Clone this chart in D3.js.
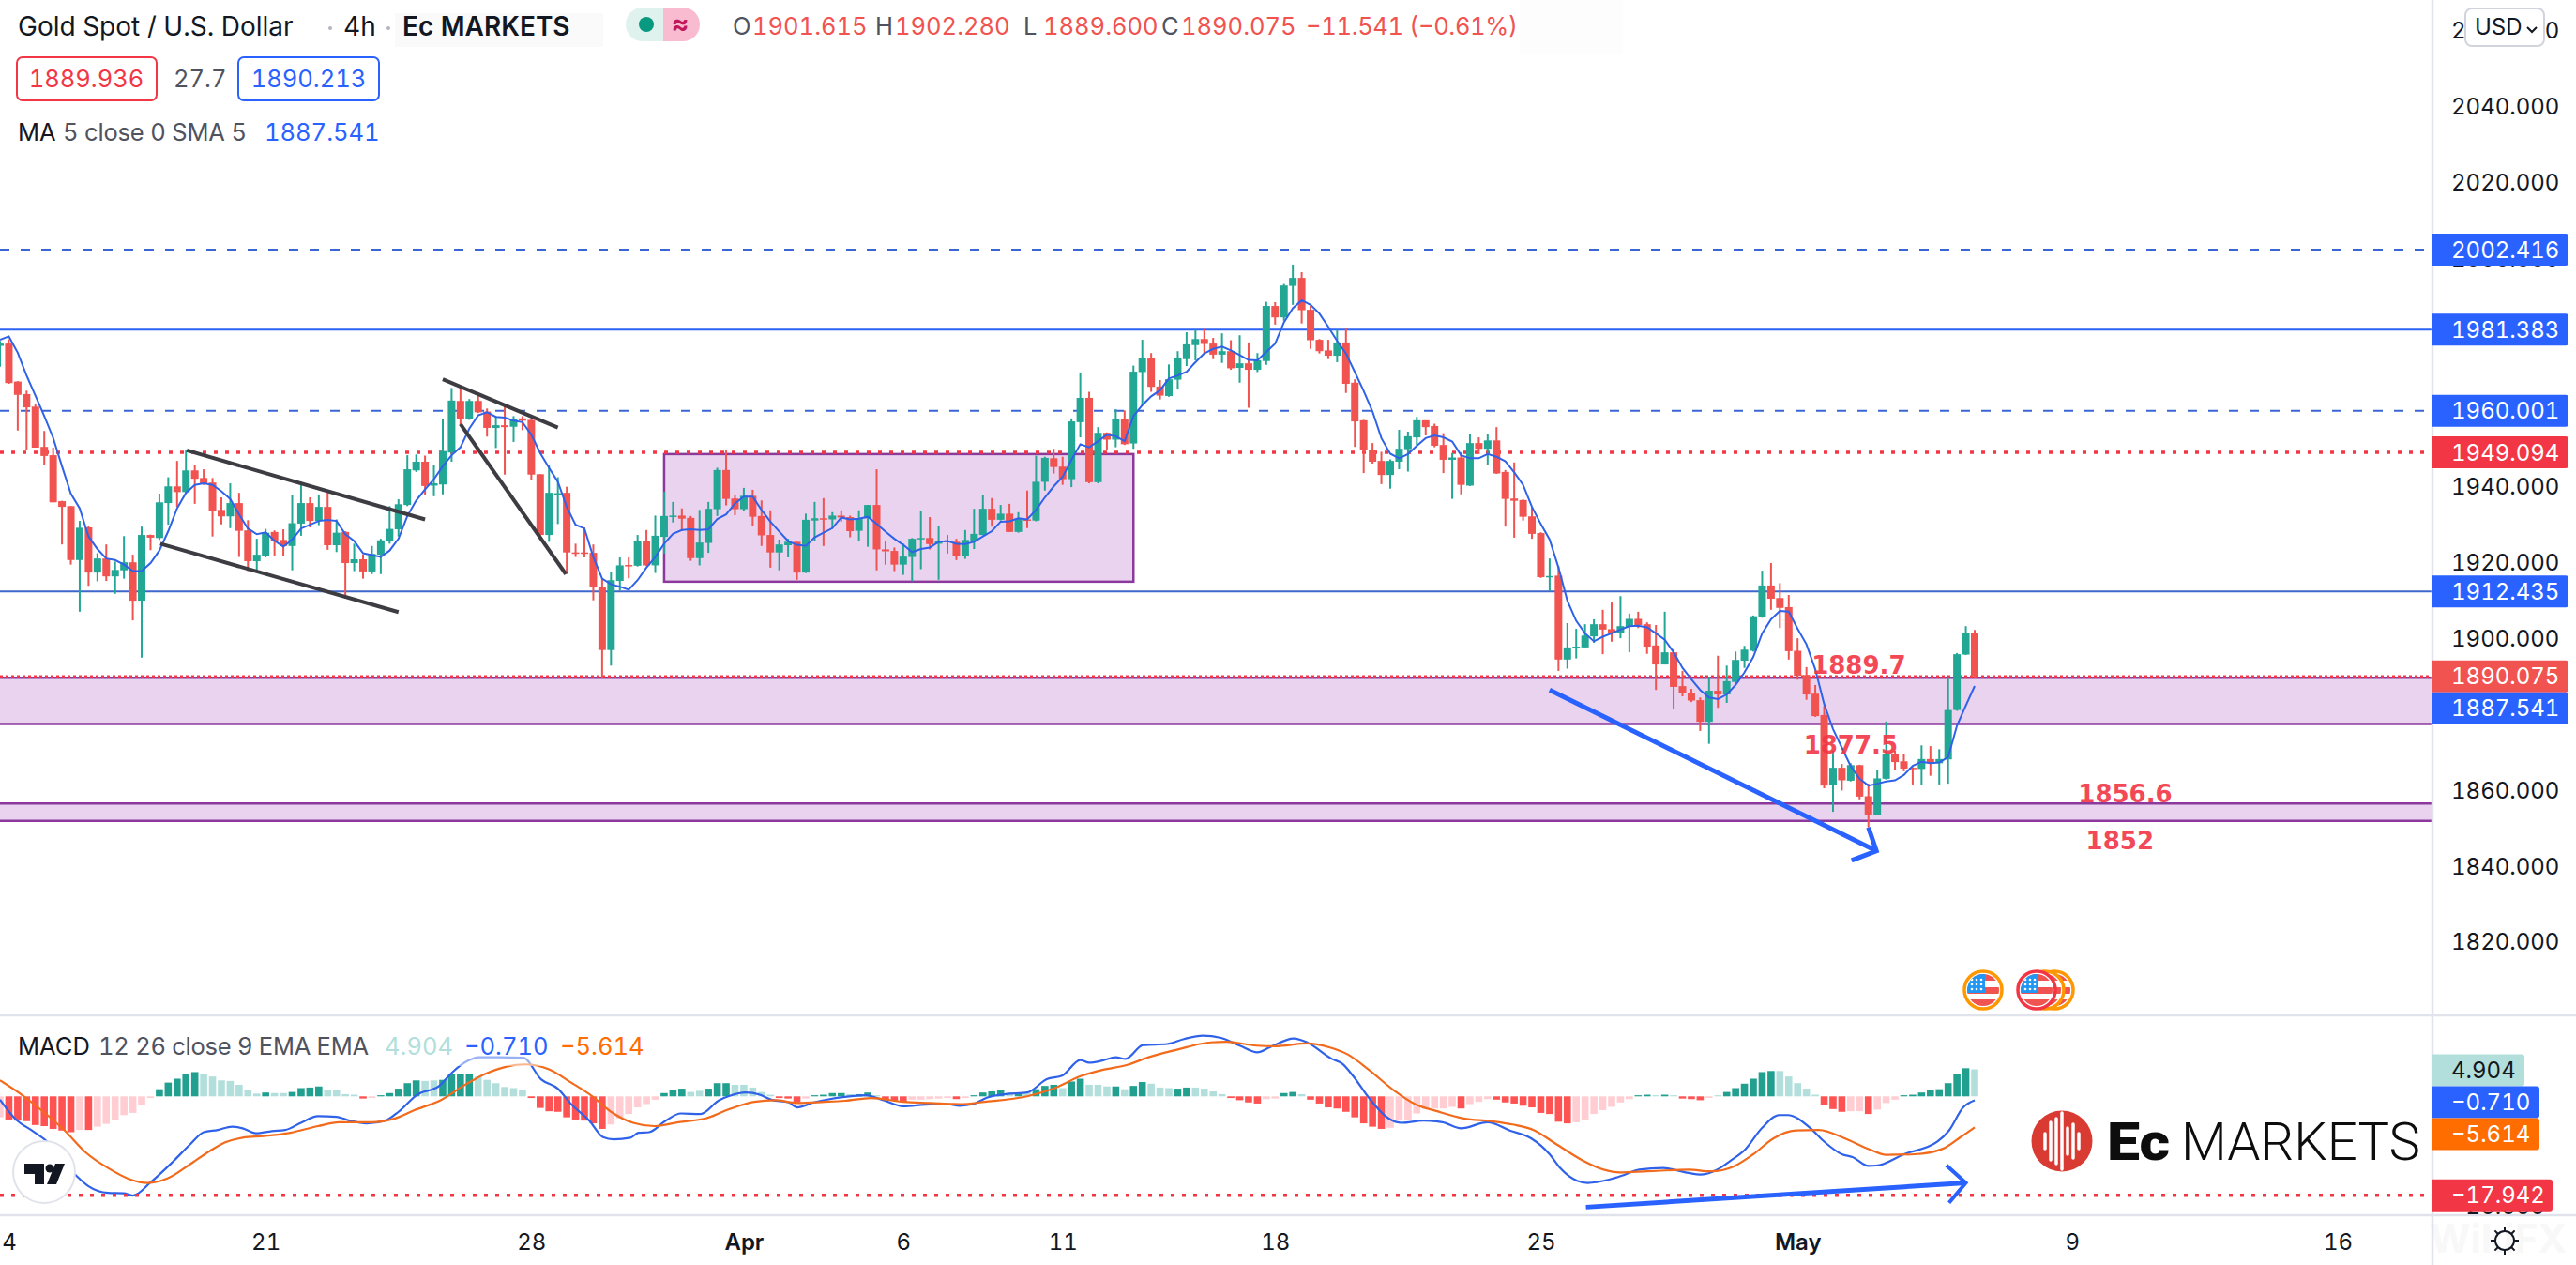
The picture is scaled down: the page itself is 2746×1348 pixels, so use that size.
<!DOCTYPE html>
<html>
<head>
<meta charset="utf-8">
<script src="https://cdn.jsdelivr.net/npm/d3@7"></script>
<style>
  html, body { margin: 0; padding: 0; background: #fff; }
  svg { display: block; }
  text { font-family: Inter, "Noto Sans", sans-serif; font-variant-numeric: tabular-nums; font-feature-settings: "tnum" 1; }
</style>
</head>
<body>
<div id="chart-area"></div>
<script>
// 4h candles, index 0 = left edge
var opens = [
1977.1,1977.7,1967.7,1964.4,1961.1,1950.5,1948.3,1936.2,1934.9,1920.7,
1929.3,1917.4,1921.1,1916.4,1918.0,1920.1,1910.0,1927.3,1926.5,1935.7,
1940.1,1938.6,1944.3,1942.3,1941.1,1933.9,1932.2,1935.7,1928.5,1920.4,
1921.8,1928.1,1926.0,1924.4,1930.3,1935.7,1931.0,1934.7,1924.6,1928.1,
1919.9,1920.9,1917.7,1922.1,1925.6,1928.8,1935.2,1944.3,1946.6,1940.3,
1940.6,1949.0,1962.6,1957.8,1962.6,1959.8,1955.5,1956.2,1955.8,1958.0,
1957.6,1943.3,1927.3,1938.2,1938.4,1922.7,1922.7,1922.6,1913.6,1897.0,
1915.2,1919.4,1919.2,1925.8,1919.3,1926.8,1932.3,1932.4,1931.8,1921.2,
1925.2,1934.1,1944.4,1936.9,1934.1,1937.6,1932.3,1927.3,1922.7,1924.6,
1925.5,1917.4,1931.1,1931.7,1931.4,1932.4,1932.0,1928.4,1931.7,1935.2,
1923.5,1923.1,1919.5,1921.5,1926.3,1926.5,1925.0,1925.8,1925.5,1921.7,
1925.8,1927.3,1934.2,1931.3,1932.9,1928.1,1931.4,1931.1,1941.3,1947.5,
1945.3,1942.0,1957.0,1963.4,1941.2,1954.2,1952.4,1957.9,1951.4,1970.2,
1974.0,1966.4,1963.9,1968.2,1973.6,1977.3,1978.9,1977.7,1974.8,1975.7,
1971.3,1972.5,1970.8,1973.1,1987.6,1984.6,1992.9,1995.0,1986.6,1978.7,
1975.9,1974.5,1978.0,1967.4,1957.5,1949.7,1946.8,1943.1,1946.6,1949.9,
1953.0,1957.5,1956.0,1951.0,1947.1,1947.7,1940.3,1951.5,1950.0,1952.2,
1943.9,1936.9,1936.5,1932.2,1927.8,1916.3,1916.6,1894.5,1897.6,1897.7,
1900.6,1903.8,1902.5,1901.5,1903.1,1905.2,1903.8,1898.2,1893.2,1896.4,
1887.5,1885.7,1883.8,1878.1,1886.3,1885.3,1888.6,1894.2,1896.8,1905.7,
1914.0,1910.7,1908.3,1896.8,1890.4,1885.5,1879.9,1861.4,1866.0,1862.6,
1866.7,1858.5,1853.5,1863.1,1869.7,1867.7,1866.0,1865.7,1868.3,1867.2,
1868.2,1881.2,1895.8,1901.615];

var highs = [
1978.4,1978.8,1967.8,1965.3,1961.9,1954.7,1950.3,1936.3,1934.9,1931.0,
1929.8,1922.5,1924.8,1920.3,1927.0,1922.1,1929.5,1927.4,1938.2,1942.5,
1946.8,1949.7,1945.8,1944.6,1942.3,1937.2,1940.9,1938.4,1931.2,1926.3,
1928.9,1928.5,1928.8,1937.7,1941.3,1937.2,1937.8,1938.4,1931.4,1928.3,
1925.0,1922.2,1924.4,1926.3,1934.9,1936.7,1948.3,1948.5,1948.2,1945.8,
1957.9,1966.0,1965.8,1963.1,1964.6,1960.6,1958.6,1961.7,1958.6,1958.6,
1957.8,1943.3,1945.6,1942.5,1940.0,1925.0,1929.3,1924.8,1915.8,1917.6,
1921.4,1921.4,1927.3,1928.6,1932.4,1938.7,1936.0,1934.3,1932.3,1933.9,
1936.0,1945.0,1949.7,1937.9,1939.7,1939.2,1936.4,1933.8,1926.1,1926.3,
1925.5,1932.9,1936.0,1937.0,1933.3,1933.8,1932.4,1933.8,1935.2,1944.6,
1925.8,1924.0,1925.0,1926.5,1933.5,1932.0,1929.6,1927.3,1926.3,1928.6,
1934.2,1937.7,1937.0,1935.2,1935.5,1933.3,1939.0,1948.2,1947.9,1950.0,
1947.9,1958.0,1970.1,1965.0,1955.7,1954.3,1960.4,1960.1,1971.9,1978.7,
1975.2,1968.1,1972.2,1975.7,1980.7,1981.3,1981.5,1979.2,1980.4,1978.6,
1979.9,1978.0,1975.2,1988.7,1988.6,1993.4,1998.5,1996.5,1987.6,1978.9,
1978.7,1981.3,1981.9,1968.3,1957.6,1951.5,1949.2,1947.2,1955.0,1954.5,
1958.4,1957.5,1956.6,1954.1,1948.9,1949.1,1954.0,1953.0,1953.8,1955.7,
1944.4,1946.4,1936.7,1934.6,1928.0,1921.1,1919.1,1904.1,1902.6,1903.8,
1905.1,1907.6,1909.5,1911.2,1906.6,1907.1,1904.3,1903.6,1907.1,1897.2,
1891.5,1886.8,1884.5,1890.0,1895.5,1892.9,1896.6,1898.1,1906.1,1917.9,
1919.9,1914.6,1911.5,1900.1,1892.5,1887.8,1882.3,1870.5,1867.0,1867.2,
1866.8,1861.8,1865.5,1878.2,1870.5,1869.5,1866.2,1871.9,1871.7,1870.9,
1889.8,1896.2,1903.3,1902.28];

var lows = [
1971.6,1967.1,1954.8,1949.8,1950.3,1945.8,1935.9,1924.8,1919.5,1907.1,
1913.9,1915.1,1915.2,1911.8,1915.8,1904.8,1895.0,1923.3,1926.0,1930.0,
1934.7,1938.4,1935.5,1940.5,1926.9,1930.1,1929.1,1921.5,1917.8,1918.1,
1921.4,1921.9,1921.7,1918.0,1927.1,1929.3,1929.9,1923.4,1922.8,1910.6,
1917.8,1915.8,1917.0,1917.0,1925.0,1926.9,1934.9,1943.9,1937.7,1937.5,
1938.0,1946.6,1956.3,1957.6,1959.4,1953.2,1950.2,1943.2,1951.8,1954.9,
1941.9,1927.1,1925.5,1930.2,1917.0,1921.5,1921.4,1910.1,1889.8,1892.9,
1912.6,1915.9,1919.0,1919.1,1917.3,1922.4,1930.6,1928.3,1920.5,1919.3,
1922.6,1932.3,1935.1,1932.5,1933.6,1929.6,1924.4,1918.7,1918.0,1921.4,
1915.5,1917.3,1925.7,1924.4,1929.0,1930.8,1926.7,1925.7,1924.2,1918.0,
1919.5,1917.8,1916.8,1915.1,1918.3,1923.5,1915.5,1922.4,1920.7,1921.0,
1923.6,1927.2,1929.5,1931.1,1928.1,1927.9,1929.1,1930.9,1939.0,1943.5,
1940.5,1939.9,1953.0,1940.9,1940.9,1949.8,1950.4,1951.0,1950.0,1961.5,
1965.0,1963.0,1963.7,1965.6,1971.8,1973.3,1974.9,1973.6,1972.6,1970.8,
1967.4,1960.8,1970.2,1972.1,1982.7,1983.7,1987.9,1983.0,1976.3,1975.1,
1973.6,1972.8,1964.7,1950.5,1943.6,1946.1,1940.7,1939.5,1944.6,1944.0,
1951.0,1953.5,1950.4,1943.6,1936.8,1938.0,1940.2,1948.6,1945.8,1943.4,
1929.5,1926.6,1931.1,1926.3,1916.0,1912.5,1891.5,1892.1,1894.8,1897.7,
1898.9,1895.9,1899.2,1900.1,1896.4,1902.8,1896.0,1886.5,1893.2,1881.4,
1884.8,1883.3,1875.7,1872.3,1881.8,1883.1,1888.2,1892.3,1896.6,1905.5,
1907.6,1902.8,1894.5,1889.2,1883.9,1879.4,1860.6,1854.4,1860.0,1862.4,
1857.7,1850.3,1853.5,1862.9,1865.4,1865.1,1861.6,1861.4,1863.9,1861.6,
1861.8,1881.0,1895.7,1889.6];

var closes = [
1977.7,1967.3,1964.2,1960.9,1950.3,1948.1,1935.9,1934.7,1920.7,1929.2,
1917.4,1921.1,1916.4,1918.1,1920.1,1910.0,1927.3,1926.6,1935.9,1940.1,
1938.6,1944.3,1942.1,1940.9,1933.7,1932.2,1935.7,1928.4,1920.4,1922.1,
1927.9,1925.8,1924.4,1930.4,1935.7,1931.0,1934.7,1924.6,1927.9,1919.9,
1920.9,1917.7,1922.3,1925.9,1928.9,1935.4,1944.6,1946.6,1940.2,1940.9,
1949.4,1962.7,1957.8,1962.6,1959.6,1955.5,1956.2,1955.7,1957.9,1957.4,
1943.2,1927.3,1938.4,1938.3,1922.7,1922.5,1922.5,1913.5,1897.0,1915.4,
1919.3,1919.1,1925.8,1919.3,1927.1,1932.3,1932.4,1931.6,1921.2,1925.3,
1934.2,1944.4,1936.8,1934.1,1937.6,1932.1,1927.2,1922.7,1924.8,1925.5,
1917.4,1931.3,1931.7,1931.4,1932.4,1931.9,1928.3,1931.7,1935.2,1923.5,
1923.0,1919.5,1921.6,1926.3,1926.5,1924.9,1925.8,1925.4,1921.7,1926.0,
1927.6,1934.2,1931.3,1932.9,1928.1,1931.6,1931.1,1941.3,1947.6,1945.2,
1942.0,1957.2,1963.4,1941.2,1954.2,1952.4,1957.9,1951.2,1970.3,1974.0,
1966.3,1964.0,1968.3,1973.8,1977.5,1978.9,1977.6,1974.8,1975.7,1971.2,
1972.5,1970.8,1973.3,1987.6,1984.6,1993.0,1995.0,1986.5,1978.6,1975.7,
1974.5,1978.0,1967.1,1957.2,1949.6,1946.6,1943.1,1946.8,1950.0,1953.3,
1957.5,1955.7,1950.8,1947.1,1947.7,1940.5,1951.5,1950.0,1952.2,1943.5,
1936.8,1936.3,1932.1,1927.6,1916.2,1916.5,1894.5,1897.7,1897.9,1900.8,
1903.8,1902.4,1901.4,1903.3,1905.2,1903.6,1897.9,1893.2,1896.4,1887.3,
1885.6,1883.7,1878.1,1886.3,1885.3,1888.8,1894.4,1897.1,1905.9,1914.0,
1910.5,1908.1,1896.7,1890.2,1885.3,1879.6,1861.3,1866.0,1862.7,1866.7,
1858.4,1853.5,1863.2,1869.7,1867.5,1865.8,1865.8,1868.3,1867.2,1868.3,
1881.2,1895.9,1901.6,1890.075];

// MA 5
var maValues = [
1978.7,1979.6,1975.3,1969.3,1964.0,1958.6,1952.9,1945.4,1938.2,1934.3,
1926.9,1923.6,1921.1,1920.7,1919.5,1917.8,1917.8,1919.9,1923.2,1928.3,
1934.3,1938.4,1940.5,1940.9,1940.5,1938.8,1936.8,1932.7,1929.0,1927.5,
1928.0,1925.8,1924.2,1926.1,1929.0,1930.0,1931.0,1931.3,1931.0,1927.5,
1925.7,1922.5,1922.0,1921.5,1923.2,1926.3,1932.3,1936.4,1939.3,1942.0,
1945.4,1948.3,1950.4,1955.3,1958.8,1959.6,1958.4,1958.2,1957.4,1957.0,
1953.7,1948.9,1945.0,1941.3,1934.7,1930.0,1929.0,1921.5,1915.8,1914.3,
1913.7,1912.9,1915.4,1918.7,1921.5,1925.0,1927.6,1928.6,1928.8,1928.6,
1928.8,1931.5,1932.7,1935.6,1937.4,1937.4,1933.9,1930.8,1928.2,1925.7,
1924.7,1924.4,1926.7,1927.9,1929.1,1931.9,1931.4,1931.6,1932.1,1930.2,
1928.2,1926.3,1924.7,1922.8,1923.6,1924.0,1925.5,1925.7,1925.0,1924.9,
1925.5,1926.9,1928.3,1930.8,1930.9,1931.7,1931.4,1933.9,1937.2,1940.1,
1942.6,1947.1,1951.2,1950.4,1952.0,1953.7,1953.3,1952.0,1958.6,1961.5,
1963.8,1965.4,1968.5,1969.3,1970.3,1972.8,1975.1,1976.3,1976.9,1975.9,
1974.7,1973.4,1973.3,1975.5,1977.7,1983.3,1987.0,1989.1,1987.9,1985.6,
1982.1,1978.4,1975.1,1970.2,1965.2,1959.8,1952.8,1948.7,1947.5,1948.6,
1950.8,1952.8,1953.5,1953.0,1951.9,1948.3,1947.5,1947.5,1948.6,1947.9,
1946.7,1943.8,1940.5,1934.7,1930.2,1926.1,1918.7,1910.0,1904.7,1901.4,
1899.3,1900.5,1901.4,1902.4,1903.3,1903.4,1903.0,1901.4,1899.7,1896.4,
1892.3,1889.3,1886.5,1884.5,1884.1,1885.3,1887.8,1891.1,1895.2,1901.4,
1905.1,1907.3,1907.1,1902.6,1898.5,1891.9,1882.8,1876.2,1871.3,1866.4,
1863.1,1861.3,1861.8,1862.4,1862.7,1864.1,1866.5,1867.6,1867.2,1867.4,
1868.8,1877.1,1882.4,1887.541];

// MACD histogram, one per candle
var histValues = [
-3.8,-4.2,-4.4,-4.5,-5.2,-5.4,-5.9,-6.2,-6.5,-6.1,
-6.1,-5.5,-5.0,-4.2,-3.4,-3.0,-1.5,-0.3,1.3,2.5,
3.2,4.0,4.4,4.1,3.6,2.9,2.8,2.1,1.1,0.5,
0.7,0.6,0.6,0.8,1.5,1.6,1.8,1.2,1.1,0.4,
0.3,-0.4,-0.3,0.2,0.6,1.4,2.4,2.9,2.8,2.9,
3.0,4.0,4.0,4.0,3.6,3.0,2.4,1.7,1.5,1.1,
-0.3,-2.1,-2.7,-2.8,-3.8,-4.2,-4.4,-4.9,-5.9,-5.1,
-4.0,-3.2,-2.0,-1.4,-0.6,0.6,1.1,1.4,0.8,1.0,
1.4,2.4,2.4,2.1,2.1,1.6,0.8,0.3,-0.3,-0.4,
-1.1,-0.4,0.2,0.3,0.6,0.6,0.4,0.4,0.7,0.2,
-0.7,-0.8,-1.0,-0.6,-0.6,-0.5,-0.4,-0.3,-0.5,-0.3,
0.2,0.7,0.9,1.1,0.7,0.5,0.7,1.3,1.9,2.1,
1.5,2.7,3.2,2.1,2.1,1.8,1.8,1.3,1.9,2.6,
2.3,1.6,1.5,1.4,1.6,1.6,1.4,0.9,0.4,-0.3,
-0.7,-1.1,-1.3,-0.5,-0.4,0.6,0.8,0.4,-0.6,-1.3,
-2.0,-2.2,-2.8,-3.8,-4.9,-5.5,-5.9,-5.7,-4.4,-4.2,
-3.1,-2.3,-2.2,-2.2,-1.9,-2.2,-1.4,-1.0,-0.5,-0.6,
-1.1,-1.3,-1.7,-2.0,-3.0,-3.2,-4.6,-4.9,-4.7,-4.2,
-3.2,-2.5,-1.9,-1.1,-0.5,0.2,0.3,0.2,0.3,0.2,
-0.4,-0.5,-0.7,-0.3,0.2,0.8,1.5,2.3,3.2,4.4,
4.6,4.6,3.6,2.4,1.4,0.3,-1.6,-2.3,-2.8,-2.7,
-2.7,-3.2,-2.4,-1.2,-0.6,0.2,0.3,0.7,1.1,1.3,
2.4,4.0,5.1,4.904];
// 1 = pale bar
var histFaded = ("1 00000000 1 0 1111111 00000 1111111 0 11 0000 1111 0 1 00000 11 0000 111111 " +
  "000000000 111111 000 11 000 11111 000 1 0000 1 00 1 000 11111 0 1 0000 1 0 1 000 1 00 111 0 1 00 " +
  "111 00 1111 0000 11 00 1 000000000 11111111 0 111 000000000 1111111 00 1 0 1 000 1 1 000000 11111 " +
  "000 11 0 111 00000000 1").replace(/ /g, "");

// MACD and signal lines, read at these candle positions
var macdIdx = [0,1.8,3.6,5.4,8.5,10,12.2,14,15,17,19.5,21.6,23,24.6,26.2,27.4,28.9,30.7,32.2,34.1,35.9,38,39.5,41.4,43.5,45,47.1,49.6,51.1,52.9,54.1,56.3,59.1,61.1,63,64.5,66.6,68.1,69.3,71.2,72.1,73.3,75.1,76.9,79.1,81.2,82.4,84.2,85.8,87.1,89.1,90,91.9,93.7,95.4,97.8,99.6,102,104.5,106.9,108.4,109.9,111.5,113.6,116,118.2,120,122,123,124.5,126,127.1,129.1,131.8,133.7,135.8,137.9,140,142,143.4,146.1,147.6,150.4,151.6,152.8,154.6,156.8,158.3,160.7,162.9,165,168,170.5,172.9,175,176.2,178.1,179.3,181.7,183.5,185.1,187.8,190.7,192,193.9,195.5,197.1,199,200.9,201.9,204.4,206,208,209.2,211,212.1,215,218.8,220.1,221.7,223];
var macdValues = [-0.6,-4.2,-6.2,-8.3,-14.2,-16.3,-17.5,-17.6,-18,-15.6,-11.9,-8.5,-6.5,-6.1,-5.5,-5.8,-6.7,-6.3,-6.1,-4.7,-3.6,-3.7,-4.4,-4.9,-4.4,-2.8,0.3,1.9,4.4,6.5,7.1,7.1,7,3.1,1.4,-1.4,-4.5,-7.4,-7.8,-7.5,-6.6,-6.5,-4.5,-3.1,-3.2,-0.7,0.1,0.7,0.3,-0.6,-1.1,-2,-1.1,-0.5,-0.1,0.2,-0.6,-1.8,-1.5,-1.4,-1.7,-1.4,-0.2,0.4,0.7,3.1,3.8,6.6,6.1,6.5,7.1,6.8,9.3,9.5,10.4,11,10.6,9.2,8,8.9,10.5,9.8,6.8,5.9,3.7,-0.3,-4,-4.8,-4.4,-4.7,-5.8,-4.7,-6.2,-7.6,-10.5,-13,-15.3,-15.7,-15.1,-14.2,-13.3,-13,-13.9,-14.2,-13.3,-11.6,-9.6,-5.7,-3.4,-3.4,-5.7,-8.2,-10.5,-11,-12.6,-12.5,-10.5,-8.2,-6.2,-2,-0.71];
var signalIdx = [0,2.7,4.9,7.3,9.7,12.2,14.6,16.7,18.9,21.3,23.7,25.5,27.4,29.8,32.8,35.9,38.3,42,44.4,46.8,49.9,52.3,54.7,57.2,59.3,62,64.5,66.9,69,71.5,73.9,76.6,79.7,82.4,85.2,87.6,90,93.1,95.4,98.4,102,105.1,108.4,111.2,116,119.1,122.1,124.5,127.3,129.7,133,136.7,138.5,141.9,144,147.6,150.1,152.2,154.6,157.4,159.8,162.3,165.3,168.3,170.8,173.2,175.6,178.7,181.1,182.9,186,190.7,193.2,195.8,198,200.3,202.8,205.4,208.3,211.1,213,216.2,219.4,221.4,223];
var signalValues = [2.9,0,-2.8,-6.2,-10.2,-13,-15,-15.7,-14.9,-12.5,-9.9,-8.3,-7.5,-7.2,-6.6,-5.4,-4.7,-4.7,-4.1,-2.5,-0.6,1.9,4,5.4,5.8,4.9,2.5,0,-2.8,-4.8,-5.4,-4.7,-4,-2.3,-1,-0.7,-1.2,-1,-0.8,-0.3,-1,-1.2,-1.4,-1,0,1.5,3.7,4.8,5.7,7.1,8.5,9.8,9.9,9.2,9.1,9.6,8.9,7.6,4.8,1.1,-1.4,-2.7,-4,-4.5,-5.1,-6.1,-8.5,-11.6,-13.3,-13.8,-13.6,-13.3,-13.6,-12.7,-10.5,-7.6,-6.2,-6.1,-7.6,-9.6,-10.6,-10.5,-9.5,-7.4,-5.614];

var priceTicks = [2060,2040,2020,2000,1980,1960,1940,1920,1900,1880,1860,1840,1820];
var macdTicks = [-20];
var timeTickIdx = [1,30,60,84,102,120,144,174,203,234,264];
var timeTickLabels = ["4","21","28","Apr","6","11","18","25","May","9","16"];
var boldTimeLabels = ["Apr","May"];

var blueSolid = [1981.383,1912.435];
var blueDashed = [2002.416,1960.001];
var redDotted = 1949.094;
var lastClose = 1890.075;
var lastMa = 1887.541;
var macdLow = -17.942;

var zoneTops = [1889.7,1856.6];
var zoneBottoms = [1877.5,1852];
var zoneLabels = ["1889.7","1877.5","1856.6","1852"];
var zoneLabelIdx = [209.9,209,240,239.4];
var zoneLabelPrice = [1890.7,1869.7,1856.9,1844.5];

// drawn trend lines: [index, price, index, price]
var trendLines = [[21.1,1949.6,48,1931.4],[18.1,1925,45,1907],[50,1968.3,63,1955.6],[52,1956.5,63.9,1917]];

var w = 2746, h = 1348;
var axisX = 2593;
var red = "#f05350", green = "#22a795", blue = "#2962ff", tagRed = "#f23645", orange = "#ff6d00";

var x = d3.scaleLinear().domain([0,223]).range([0,2105]);
var y = d3.scaleLinear().domain([2040,1820]).range([114,1004.3]);
var yM = d3.scaleLinear().domain([0,macdLow]).range([1168.3,1273.7]);

var svg = d3.select("#chart-area").append("svg").attr("width", w).attr("height", h);
svg.append("rect").attr("width", w).attr("height", h).attr("fill", "#fff");

svg.append("defs").append("clipPath").attr("id", "plot")
  .append("rect").attr("width", axisX).attr("height", h);
var plot = svg.append("g").attr("clip-path", "url(#plot)");

// purple zones and the range box
plot.selectAll(".zone").data(zoneTops).enter().append("rect")
  .attr("x", 0).attr("width", axisX)
  .attr("y", function(d) { return y(d); })
  .attr("height", function(d, i) { return y(zoneBottoms[i]) - y(d); })
  .attr("fill", "#e9d3ef");
plot.selectAll(".zoneTop").data(zoneTops.concat(zoneBottoms)).enter().append("line")
  .attr("x1", 0).attr("x2", axisX)
  .attr("y1", function(d) { return y(d); }).attr("y2", function(d) { return y(d); })
  .attr("stroke", "#8b3a9c").attr("stroke-width", 2.5);
plot.append("rect")
  .attr("x", x(75)).attr("width", x(128) - x(75))
  .attr("y", y(1948.6)).attr("height", y(1915) - y(1948.6))
  .attr("fill", "#e9d3ef").attr("stroke", "#8b3a9c").attr("stroke-width", 2.5);

// horizontal levels
function level(price, colour, dash, width) {
  plot.append("line").attr("x1", 0).attr("x2", axisX)
    .attr("y1", y(price)).attr("y2", y(price))
    .attr("stroke", colour).attr("stroke-width", width)
    .attr("stroke-dasharray", dash);
}
level(blueDashed[0], "#3a66d4", "10 12", 2);
level(blueDashed[1], "#3a66d4", "10 12", 2);
level(blueSolid[0], "#2b62f5", null, 2);
level(blueSolid[1], "#3f66cc", null, 2);
level(redDotted, tagRed, "4 8", 3.5);
level(lastClose, tagRed, "3 3", 2.5);

// candles
var idx = d3.range(opens.length);
function candleColour(i) { return closes[i] >= opens[i] ? green : red; }
plot.selectAll(".wick").data(idx).enter().append("line")
  .attr("x1", function(i) { return x(i); }).attr("x2", function(i) { return x(i); })
  .attr("y1", function(i) { return y(highs[i]); }).attr("y2", function(i) { return y(lows[i]); })
  .attr("stroke", candleColour).attr("stroke-width", 2);
plot.selectAll(".body").data(idx).enter().append("rect")
  .attr("x", function(i) { return x(i) - 4; }).attr("width", 8)
  .attr("y", function(i) { return y(Math.max(opens[i], closes[i])); })
  .attr("height", function(i) { return Math.max(1.5, Math.abs(y(opens[i]) - y(closes[i]))); })
  .attr("fill", candleColour);

// MA 5
plot.append("path").datum(maValues)
  .attr("fill", "none").attr("stroke", "#2f62e8").attr("stroke-width", 2)
  .attr("d", d3.line().x(function(d, i) { return x(i); }).y(function(d) { return y(d); }));

// black trend lines
plot.selectAll(".trend").data(trendLines).enter().append("line")
  .attr("x1", function(d) { return x(d[0]); }).attr("y1", function(d) { return y(d[1]); })
  .attr("x2", function(d) { return x(d[2]); }).attr("y2", function(d) { return y(d[3]); })
  .attr("stroke", "#3c3c42").attr("stroke-width", 4);

// zone labels
plot.selectAll(".zoneLabel").data(zoneLabels).enter().append("text")
  .attr("x", function(d, i) { return x(zoneLabelIdx[i]); })
  .attr("y", function(d, i) { return y(zoneLabelPrice[i]); })
  .attr("text-anchor", "middle")
  .style("font-family", "'DejaVu Sans'").style("font-weight", "bold").style("font-size", "26px")
  .attr("fill", tagRed).attr("opacity", 0.9)
  .text(function(d) { return d; });

// blue arrow on price
var priceArrow = [[175,1886.5],[211.9,1844.1]];
var priceHead = [[211,1850.3],[211.9,1844.1],[209.1,1841.6]];
var priceLine = d3.line().x(function(d) { return x(d[0]); }).y(function(d) { return y(d[1]); });
plot.append("path").attr("d", priceLine(priceArrow)).attr("fill", "none").attr("stroke", blue).attr("stroke-width", 5);
plot.append("path").attr("d", priceLine(priceHead)).attr("fill", "none").attr("stroke", blue).attr("stroke-width", 5);

// economic event flags
function flag(cx, cy, ring) {
  var id = "f" + Math.round(cx);
  var g = svg.append("g").attr("transform", "translate(" + cx + "," + cy + ")");
  g.append("clipPath").attr("id", id).append("circle").attr("r", 17);
  g.append("circle").attr("r", 20).attr("fill", "#fff").attr("stroke", ring).attr("stroke-width", 3.5);
  var f = g.append("g").attr("clip-path", "url(#" + id + ")");
  f.append("rect").attr("x", -18).attr("y", -17).attr("width", 36).attr("height", 7).attr("fill", red);
  f.append("rect").attr("x", -18).attr("y", -3).attr("width", 36).attr("height", 7).attr("fill", red);
  f.append("rect").attr("x", -18).attr("y", 10).attr("width", 36).attr("height", 8).attr("fill", red);
  f.append("rect").attr("x", -18).attr("y", -17).attr("width", 20).attr("height", 20).attr("fill", "#2196f3");
  [-12,-7,-2].forEach(function(sx) {
    [-11,-6,-1].forEach(function(sy) {
      f.append("circle").attr("cx", sx).attr("cy", sy).attr("r", 1.3).attr("fill", "#fff");
    });
  });
}
flag(2114, 1055, "#ff9800");
flag(2190, 1055, "#ff9800");
flag(2180, 1055, "#ff9800");
flag(2171, 1055, tagRed);

// MACD pane
plot.selectAll(".hist").data(histValues).enter().append("rect")
  .attr("x", function(d, i) { return x(i) - 3.8; }).attr("width", 7.6)
  .attr("y", function(d) { return Math.min(yM(d), yM(0)); })
  .attr("height", function(d) { return Math.abs(yM(d) - yM(0)); })
  .attr("fill", function(d, i) {
    var pale = histFaded[i] === "1";
    if (d >= 0) return pale ? "#b2dfdb" : "#22a08f";
    return pale ? "#ffcdd2" : "#ff5252";
  });

function macdPath(ids, vals, colour) {
  plot.append("path").datum(vals)
    .attr("fill", "none").attr("stroke", colour).attr("stroke-width", 2.2)
    .attr("d", d3.line().curve(d3.curveMonotoneX)
      .x(function(d, i) { return x(ids[i]); }).y(function(d) { return yM(d); }));
}
macdPath(macdIdx, macdValues, "#2f62e8");
macdPath(signalIdx, signalValues, "#f26a1b");

plot.append("line").attr("x1", 0).attr("x2", axisX)
  .attr("y1", yM(macdLow)).attr("y2", yM(macdLow))
  .attr("stroke", tagRed).attr("stroke-width", 3.5).attr("stroke-dasharray", "4 8");

var macdArrow = [[179.1,-20.1],[222,-15.7]];
var macdHead = [[219.8,-12.5],[222,-15.7],[220.1,-19.3]];
var macdLine = d3.line().x(function(d) { return x(d[0]); }).y(function(d) { return yM(d[1]); });
plot.append("path").attr("d", macdLine(macdArrow)).attr("fill", "none").attr("stroke", blue).attr("stroke-width", 5);
plot.append("path").attr("d", macdLine(macdHead)).attr("fill", "none").attr("stroke", blue).attr("stroke-width", 4);

// fade under the MACD legend
svg.append("rect").attr("x", 0).attr("y", 1100).attr("width", 690).attr("height", 36)
  .attr("fill", "#fff").attr("opacity", 0.5);

// TradingView badge
var badge = svg.append("g").attr("transform", "translate(47,1249)");
badge.append("circle").attr("r", 33).attr("fill", "#fff").attr("stroke", "#e0e3eb").attr("stroke-width", 2);
badge.append("path").attr("d", "M-21,-9H0V13H-10V2H-21Z").attr("fill", "#131722");
badge.append("circle").attr("cx", 6).attr("cy", -4).attr("r", 4.5).attr("fill", "#131722");
badge.append("path").attr("d", "M12,-9H22L13,13H3Z").attr("fill", "#131722");

// watermark sits under the axis rules
svg.append("text").attr("x", 2590).attr("y", 1335).style("font-size", "42px").style("font-weight", 700)
  .attr("fill", "#f8f8f9").text("WikiFX");

// separators
svg.append("line").attr("x1", 0).attr("x2", w).attr("y1", 1082).attr("y2", 1082).attr("stroke", "#e0e3eb").attr("stroke-width", 2.5);
svg.append("line").attr("x1", 0).attr("x2", w).attr("y1", 1295).attr("y2", 1295).attr("stroke", "#e0e3eb").attr("stroke-width", 2.5);
svg.append("line").attr("x1", axisX).attr("x2", axisX).attr("y1", 0).attr("y2", h).attr("stroke", "#e0e3eb").attr("stroke-width", 2.5);

// axes
function styleAxis(g) {
  g.select(".domain").remove();
  g.selectAll("text").style("font-family", "Inter").style("font-size", "24px").attr("fill", "#131722");
}
svg.append("g").attr("transform", "translate(" + axisX + ",0)")
  .call(d3.axisRight(y).tickValues(priceTicks).tickSize(0).tickPadding(20).tickFormat(d3.format(".3f")))
  .call(styleAxis);
svg.append("g").attr("transform", "translate(" + axisX + ",0)")
  .call(d3.axisRight(yM).tickValues(macdTicks).tickSize(0).tickPadding(20).tickFormat(d3.format(".3f")))
  .call(styleAxis);
svg.append("g").attr("transform", "translate(0,1312)")
  .call(d3.axisBottom(x).tickValues(timeTickIdx).tickSize(0).tickPadding(3)
    .tickFormat(function(d, i) { return timeTickLabels[i]; }))
  .call(styleAxis)
  .selectAll("text").style("font-weight", function(d, i) {
    return boldTimeLabels.indexOf(timeTickLabels[i]) >= 0 ? 600 : 400;
  });

// price tags on the scale
function tag(cy, right, fill, label, ink) {
  svg.append("path")
    .attr("d", "M" + (axisX - 1) + "," + (cy - 17) + "H" + (right - 3) + "q3,0 3,3V" + (cy + 14) + "q0,3 -3,3H" + (axisX - 1) + "Z")
    .attr("fill", fill);
  svg.append("text").attr("x", 2613).attr("y", cy).attr("dy", "0.36em")
    .style("font-size", "24px").attr("fill", ink || "#fff").text(label);
}
var fmt = d3.format(".3f");
tag(y(blueDashed[0]), 2738, blue, fmt(blueDashed[0]));
tag(y(blueSolid[0]), 2738, blue, fmt(blueSolid[0]));
tag(y(blueDashed[1]), 2738, blue, fmt(blueDashed[1]));
tag(y(redDotted), 2738, tagRed, fmt(redDotted));
tag(y(blueSolid[1]), 2738, blue, fmt(blueSolid[1]));
tag(y(lastClose), 2738, red, fmt(lastClose));
tag(y(lastClose) + 34, 2738, blue, fmt(lastMa));   // pushed under the close tag
tag(yM(histValues[histValues.length - 1]) + 1, 2691, "#b2dfdb", fmt(histValues[histValues.length - 1]), "#131722");
tag(yM(histValues[histValues.length - 1]) + 35, 2707, blue, fmt(macdValues[macdValues.length - 1]));
tag(yM(histValues[histValues.length - 1]) + 69, 2707, orange, fmt(signalValues[signalValues.length - 1]));
tag(yM(macdLow), 2721, tagRed, fmt(macdLow));

// USD button
svg.append("rect").attr("x", 2628).attr("y", 9).attr("width", 84).attr("height", 40).attr("rx", 7)
  .attr("fill", "#fff").attr("stroke", "#d1d4dc").attr("stroke-width", 2);
svg.append("text").attr("x", 2638).attr("y", 37).style("font-size", "24px").attr("fill", "#131722").text("USD");
svg.append("path").attr("d", "M2694,29l5,5l5,-5").attr("fill", "none").attr("stroke", "#131722").attr("stroke-width", 2);

// settings gear
var gear = svg.append("g").attr("transform", "translate(2670,1322)");
gear.append("circle").attr("r", 10).attr("fill", "none").attr("stroke", "#131722").attr("stroke-width", 2);
d3.range(8).forEach(function(k) {
  var a = k * Math.PI / 4;
  gear.append("line").attr("x1", 10 * Math.cos(a)).attr("y1", 10 * Math.sin(a))
    .attr("x2", 15 * Math.cos(a)).attr("y2", 15 * Math.sin(a))
    .attr("stroke", "#131722").attr("stroke-width", 2);
});

// header
function txt(xp, yp, s, colour, size, weight) {
  return svg.append("text").attr("x", xp).attr("y", yp).style("font-size", (size || 25.5) + "px")
    .style("font-weight", weight || 400).attr("fill", colour || "#131722").text(s);
}
svg.append("rect").attr("x", 421).attr("y", 14).attr("width", 222).attr("height", 36).attr("fill", "#fafafa");
svg.append("rect").attr("x", 1620).attr("y", 0).attr("width", 110).attr("height", 58).attr("fill", "#fdfdfd");
txt(19, 38, "Gold Spot / U.S. Dollar", "#131722", 28);
svg.append("circle").attr("cx", 352).attr("cy", 30).attr("r", 2).attr("fill", "#b2b5be");
txt(366, 38, "4h", "#131722", 28);
svg.append("circle").attr("cx", 414).attr("cy", 30).attr("r", 2).attr("fill", "#b2b5be");
txt(429, 38, "Ec MARKETS", "#131722", 28, 600);

svg.append("path").attr("d", "M707,8H685a18,18 0 0 0 0,36H707Z").attr("fill", "#e0f2ee");
svg.append("path").attr("d", "M707,8H728a18,18 0 0 1 0,36H707Z").attr("fill", "#f8bbd0");
svg.append("circle").attr("cx", 689).attr("cy", 26).attr("r", 8).attr("fill", "#089981");
txt(725, 35, "≈", "#c2185b", 28, 700).attr("text-anchor", "middle");

var ohlcLabels = ["O","H","L","C"];
var ohlcValues = [opens[223], highs[223], lows[223], closes[223]];
var ohlcLeft = [781,933,1091,1238];
ohlcLabels.forEach(function(l, i) {
  txt(ohlcLeft[i], 37, l, "#50535e");
  txt(ohlcLeft[i] + 21, 37, fmt(ohlcValues[i]), red);
});
txt(1392, 37, "−11.541 (−0.61%)", red).attr("textLength", 226);

svg.append("rect").attr("x", 18).attr("y", 61).attr("width", 149).attr("height", 46).attr("rx", 6)
  .attr("fill", "#fff").attr("stroke", tagRed).attr("stroke-width", 2);
txt(92, 93, "1889.936", tagRed).attr("text-anchor", "middle");
txt(185, 93, "27.7", "#50535e");
svg.append("rect").attr("x", 254).attr("y", 61).attr("width", 150).attr("height", 46).attr("rx", 6)
  .attr("fill", "#fff").attr("stroke", blue).attr("stroke-width", 2);
txt(329, 93, "1890.213", blue).attr("text-anchor", "middle");

txt(19, 150, "MA");
txt(67, 150, "5 close 0 SMA 5", "#50535e").attr("textLength", 196);
txt(282, 150, fmt(lastMa), blue);

txt(19, 1124, "MACD");
txt(105, 1124, "12 26 close 9 EMA EMA", "#50535e").attr("textLength", 288);
txt(410, 1124, fmt(histValues[223]), "#b2dfdb");
txt(495, 1124, fmt(macdValues[macdValues.length - 1]), blue);
txt(597, 1124, fmt(signalValues[signalValues.length - 1]), orange);

// Ec Markets logo
var logo = svg.append("g").attr("transform", "translate(2198,1216)");
logo.append("circle").attr("r", 32.5).attr("fill", "#d93a32");
var logoBarX = [-16,-10,-4,2,8,14,20];
var logoBarH = [8,20,24,30,14,18,8];
logo.selectAll(".wave").data(logoBarX).enter().append("line")
  .attr("x1", function(d) { return d - 2; }).attr("x2", function(d) { return d - 2; })
  .attr("y1", function(d, i) { return -logoBarH[i]; }).attr("y2", function(d, i) { return logoBarH[i]; })
  .attr("stroke", "#fff").attr("stroke-width", 3.5).attr("stroke-linecap", "round");
svg.append("text").attr("x", 2246).attr("y", 1236)
  .style("font-family", "Roboto").style("font-size", "56px").style("font-weight", 900)
  .attr("textLength", 67).attr("lengthAdjust", "spacingAndGlyphs").attr("fill", "#0d0d0d").text("Ec");
svg.append("text").attr("x", 2325).attr("y", 1236)
  .style("font-family", "Roboto").style("font-size", "56px").style("font-weight", 300)
  .attr("textLength", 255).attr("lengthAdjust", "spacingAndGlyphs").attr("fill", "#0d0d0d").text("MARKETS");
</script>
</body>
</html>
